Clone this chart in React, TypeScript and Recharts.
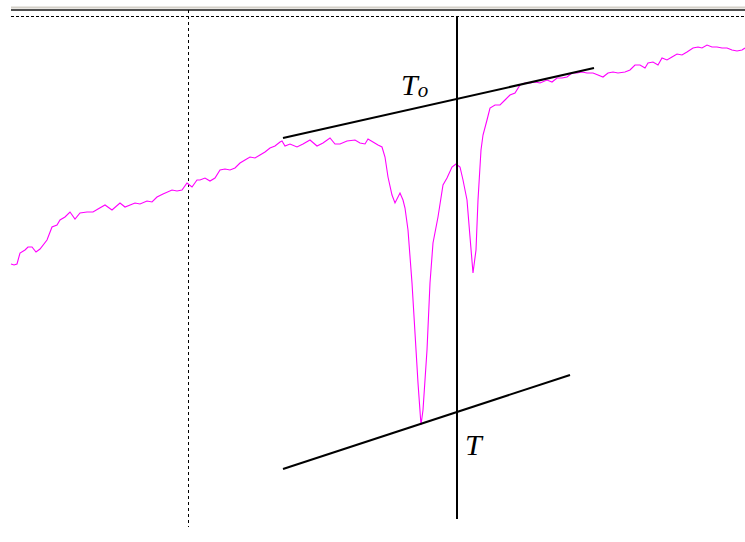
import React from 'react';
import { LineChart, Line, XAxis, YAxis, ReferenceLine, ReferenceDot } from 'recharts';

// trace readings: [position, level] (level axis drawn top-down)
const trace: [number, number][] = [
  [11, 264], [14, 265], [17, 264], [20, 253], [25, 250], [28, 247], [32, 247], [36, 252], [40, 249],
  [47, 240], [52, 227], [57, 225], [60, 220], [65, 217], [70, 212], [75, 219], [80, 213],
  [87, 212], [93, 212], [98, 209], [105, 205], [112, 210], [120, 203], [125, 207], [135, 203],
  [140, 204], [147, 201], [152, 202], [157, 197], [163, 194], [172, 190], [177, 191], [182, 190],
  [187, 183], [192, 187], [197, 180], [200, 180], [205, 178], [210, 181], [215, 178], [220, 170],
  [225, 169], [230, 170], [235, 168], [240, 163], [245, 160], [250, 157], [255, 158], [260, 155],
  [265, 152], [270, 148], [275, 146], [280, 142], [282, 141], [285, 146], [290, 144], [297, 147],
  [303, 144], [310, 140], [317, 146], [323, 143], [330, 138], [335, 144], [340, 144], [347, 141],
  [355, 140], [360, 143], [365, 144], [368, 139], [373, 142], [378, 145], [382, 147], [385, 157],
  [388, 177], [392, 195], [395, 203], [400, 193], [403, 200], [405, 208], [408, 230], [412, 283],
  [415, 333], [418, 383], [421, 425], [423, 410], [427, 350], [430, 283], [433, 243], [438, 217],
  [443, 185], [447, 178], [452, 167], [456, 164], [460, 167], [463, 180], [467, 200], [470, 237],
  [473, 273], [476, 250], [478, 200], [481, 150], [483, 135], [487, 120], [490, 108], [495, 105],
  [500, 105], [505, 100], [510, 95], [515, 93], [520, 85], [525, 83], [530, 83], [535, 82],
  [540, 83], [547, 80], [552, 82], [557, 78], [562, 78], [567, 77], [572, 73], [577, 73],
  [582, 72], [587, 73], [593, 73], [598, 75], [603, 77], [608, 73], [613, 72], [618, 73],
  [625, 72], [630, 70], [635, 65], [640, 65], [645, 68], [648, 63], [653, 62], [658, 65],
  [662, 58], [667, 60], [672, 57], [677, 54], [682, 55], [687, 52], [693, 48], [698, 47],
  [702, 48], [707, 45], [712, 47], [717, 47], [722, 48], [727, 48], [732, 50], [737, 51],
  [742, 50], [745, 48],
];

// construction lines
const onsetTangent = [{ x: 283, y: 138 }, { x: 594, y: 68 }];
const baseTangent = [{ x: 283, y: 469 }, { x: 570, y: 375 }];
const markerX = 457;
const markerSpan = [16, 519];
const dottedX = 188;
const dottedSpan = [10, 527];
const frameLeft = 11;
const frameRight = 745;

const data = trace.map(([x, y]) => ({ x, y }));

const serif = 'Liberation Serif, Times New Roman, serif';

const App = () => (
  <div style={{ position: 'absolute', left: 0, top: 0, background: '#fff' }}>
    <LineChart width={745} height={542} data={data} margin={{ top: 0, right: 0, bottom: 0, left: 0 }}>
      <XAxis dataKey="x" type="number" domain={[0, 745]} hide allowDataOverflow />
      <YAxis type="number" domain={[0, 542]} reversed hide allowDataOverflow />
      <ReferenceLine segment={[{ x: frameLeft, y: 7.5 }, { x: frameRight, y: 7.5 }]} stroke="#d4d0c8" strokeWidth={2} ifOverflow="visible" />
      <ReferenceLine segment={[{ x: frameLeft, y: 10 }, { x: frameRight, y: 10 }]} stroke="#505050" strokeWidth={2} ifOverflow="visible" />
      <ReferenceLine segment={[{ x: frameLeft, y: 16.5 }, { x: frameRight, y: 16.5 }]} stroke="#000" strokeWidth={1} strokeDasharray="3 2" ifOverflow="visible" />
      <ReferenceLine segment={[{ x: dottedX + 0.5, y: dottedSpan[0] }, { x: dottedX + 0.5, y: dottedSpan[1] }]} stroke="#000" strokeWidth={1} strokeDasharray="3 3" ifOverflow="visible" />
      <Line dataKey="y" type="linear" stroke="#ff00ff" strokeWidth={1.1} dot={false} activeDot={false} isAnimationActive={false} />
      <ReferenceLine segment={[{ x: markerX, y: markerSpan[0] }, { x: markerX, y: markerSpan[1] }]} stroke="#000" strokeWidth={2} ifOverflow="visible" />
      <ReferenceLine segment={onsetTangent} stroke="#000" strokeWidth={2} ifOverflow="visible" />
      <ReferenceLine segment={baseTangent} stroke="#000" strokeWidth={2} ifOverflow="visible" />
      <ReferenceDot
        x={401}
        y={95}
        r={0}
        fill="none"
        stroke="none"
        label={(p: any) => (
          <text x={p.viewBox.x} y={p.viewBox.y} fontFamily={serif} fontStyle="italic" fontSize={30} fill="#000">
            T<tspan fontSize={21} dy={2}>o</tspan>
          </text>
        )}
      />
      <ReferenceDot
        x={465}
        y={455}
        r={0}
        fill="none"
        stroke="none"
        label={(p: any) => (
          <text x={p.viewBox.x} y={p.viewBox.y} fontFamily={serif} fontStyle="italic" fontSize={30} fill="#000">
            T
          </text>
        )}
      />
    </LineChart>
  </div>
);

export default App;
